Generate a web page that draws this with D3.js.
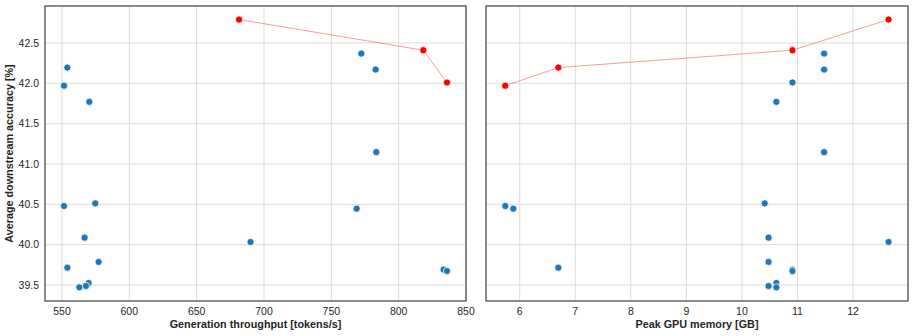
<!DOCTYPE html>
<html>
<head>
<meta charset="utf-8">
<script src="https://cdn.jsdelivr.net/npm/d3@7"></script>
<style>
  body { margin: 0; background: #fff; }
  text { font-family: "Liberation Sans", Arial, sans-serif; fill: #262626; }
</style>
</head>
<body>
<svg id="chart" width="914" height="336"></svg>
<script>
const throughput = [681.5, 818.3, 835.9, 551.5, 554.0, 772.3, 782.9, 570.3, 783.4, 551.5, 574.7, 768.8, 566.8, 690.0, 577.2, 554.0, 833.4, 835.9, 569.8, 567.8, 562.9];
const memory     = [12.64, 10.91, 10.91, 5.74, 6.695, 11.48, 11.48, 10.62, 11.48, 5.74, 10.41, 5.885, 10.48, 12.64, 10.48, 6.695, 10.91, 10.91, 10.62, 10.48, 10.62];
const accuracy   = [42.79, 42.41, 42.01, 41.97, 42.195, 42.368, 42.17, 41.77, 41.147, 40.479, 40.512, 40.446, 40.087, 40.033, 39.786, 39.715, 39.691, 39.674, 39.525, 39.488, 39.472];

// pareto front indices per panel
const frontThroughput = [0, 1, 2];
const frontMemory = [3, 4, 1, 0];

const xTicksLeft = [550, 600, 650, 700, 750, 800, 850];
const xTicksRight = [6, 7, 8, 9, 10, 11, 12];
const yTicks = [39.5, 40.0, 40.5, 41.0, 41.5, 42.0, 42.5];

const svg = d3.select("#chart");
const plotTop = 6, plotBottom = 301;

const y = d3.scaleLinear().domain([39.302, 42.958]).range([plotBottom, plotTop]);

const panels = [
  { left: 45, right: 466, xs: throughput, domain: [537.4, 850], ticks: xTicksLeft, front: frontThroughput,
    label: "Generation throughput [tokens/s]", fmt: d3.format("d"), yAxis: true },
  { left: 486, right: 908, xs: memory, domain: [5.393, 12.99], ticks: xTicksRight, front: frontMemory,
    label: "Peak GPU memory [GB]", fmt: d3.format("d"), yAxis: false }
];

panels.forEach(p => {
  const x = d3.scaleLinear().domain(p.domain).range([p.left, p.right]);
  const g = svg.append("g");

  // grid
  g.selectAll(".vgrid").data(p.ticks).enter().append("line")
    .attr("x1", d => x(d)).attr("x2", d => x(d))
    .attr("y1", plotTop).attr("y2", plotBottom)
    .attr("stroke", "#dcdcdc").attr("stroke-width", 1);
  g.selectAll(".hgrid").data(yTicks).enter().append("line")
    .attr("x1", p.left).attr("x2", p.right)
    .attr("y1", d => y(d)).attr("y2", d => y(d))
    .attr("stroke", "#dcdcdc").attr("stroke-width", 1);

  // x tick labels
  g.selectAll(".xt").data(p.ticks).enter().append("text")
    .attr("x", d => x(d)).attr("y", 315)
    .attr("text-anchor", "middle").attr("font-size", "10.5px")
    .text(d => p.fmt(d));

  g.append("text")
    .attr("x", (p.left + p.right) / 2).attr("y", 328)
    .attr("text-anchor", "middle").attr("font-size", "10.8px").attr("font-weight", "bold")
    .text(p.label);

  if (p.yAxis) {
    g.selectAll(".yt").data(yTicks).enter().append("text")
      .attr("x", 39).attr("y", d => y(d)).attr("dy", "0.35em")
      .attr("text-anchor", "end").attr("font-size", "10.5px")
      .text(d => d.toFixed(1));
    g.append("text")
      .attr("transform", `translate(13,${(plotTop + plotBottom) / 2}) rotate(-90)`)
      .attr("text-anchor", "middle").attr("font-size", "10.8px").attr("font-weight", "bold")
      .text("Average downstream accuracy [%]");
  }

  // points
  const idx = d3.range(accuracy.length);
  g.selectAll(".pt").data(idx).enter().append("circle")
    .attr("cx", i => x(p.xs[i])).attr("cy", i => y(accuracy[i]))
    .attr("r", 3.6)
    .attr("fill", "#1f77b4").attr("stroke", "#fff").attr("stroke-width", 0.8);

  // pareto line
  const line = d3.line().x(i => x(p.xs[i])).y(i => y(accuracy[i]));
  g.append("path").datum(p.front)
    .attr("d", line).attr("fill", "none")
    .attr("stroke", "red").attr("stroke-opacity", 0.5).attr("stroke-width", 0.8);
  g.selectAll(".fp").data(p.front).enter().append("circle")
    .attr("cx", i => x(p.xs[i])).attr("cy", i => y(accuracy[i]))
    .attr("r", 3.6)
    .attr("fill", "red").attr("stroke", "#fff").attr("stroke-width", 0.8);

  // frame
  g.append("rect")
    .attr("x", p.left).attr("y", plotTop)
    .attr("width", p.right - p.left).attr("height", plotBottom - plotTop)
    .attr("fill", "none").attr("stroke", "#4d4d4d").attr("stroke-width", 1.3);
});
</script>
</body>
</html>
